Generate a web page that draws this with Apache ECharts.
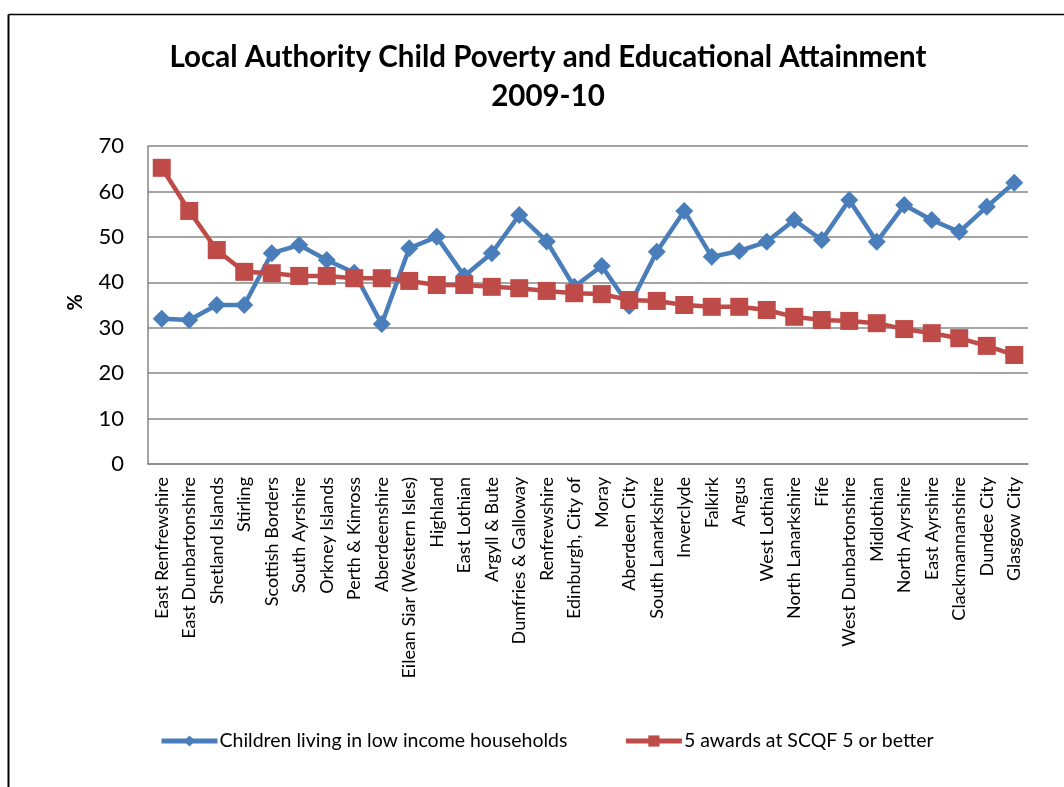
<!DOCTYPE html>
<html>
<head>
<meta charset="utf-8">
<script src="https://cdn.jsdelivr.net/npm/echarts@6/dist/echarts.min.js"></script>
<style>
  html, body { margin: 0; padding: 0; background: #ffffff; }
  #chart { width: 1064px; height: 787px; }
</style>
</head>
<body>
<div id="chart"></div>
<script>
// Scottish local authorities, ordered by attainment
const authorities = [
  'East Renfrewshire', 'East Dunbartonshire', 'Shetland Islands', 'Stirling',
  'Scottish Borders', 'South Ayrshire', 'Orkney Islands', 'Perth & Kinross',
  'Aberdeenshire', 'Eilean Siar (Western Isles)', 'Highland', 'East Lothian',
  'Argyll & Bute', 'Dumfries & Galloway', 'Renfrewshire', 'Edinburgh, City of',
  'Moray', 'Aberdeen City', 'South Lanarkshire', 'Inverclyde', 'Falkirk',
  'Angus', 'West Lothian', 'North Lanarkshire', 'Fife', 'West Dunbartonshire',
  'Midlothian', 'North Ayrshire', 'East Ayrshire', 'Clackmannanshire',
  'Dundee City', 'Glasgow City'
];

// % of children living in low income households
const lowIncome = [
  32.0, 31.7, 35.0, 35.0, 46.4, 48.2, 44.9, 42.1,
  30.8, 47.5, 50.0, 41.4, 46.4, 54.8, 49.0, 39.0,
  43.6, 34.8, 46.7, 55.7, 45.6, 46.9, 48.9, 53.7,
  49.3, 58.1, 48.9, 57.0, 53.7, 51.1, 56.6, 61.9
];

// % of pupils gaining 5 awards at SCQF level 5 or better
const scqfAwards = [
  65.2, 55.7, 47.1, 42.3, 42.0, 41.4, 41.4, 40.9,
  40.9, 40.3, 39.4, 39.4, 39.0, 38.7, 38.1, 37.6,
  37.4, 36.1, 35.9, 35.0, 34.6, 34.6, 33.9, 32.4,
  31.7, 31.5, 31.0, 29.7, 28.8, 27.7, 26.0, 24.0
];

const yTicks = { min: 0, max: 70, step: 10 };

const FONT = 'Lato, "Open Sans", sans-serif';
const BLUE = '#4a7ebb';
const RED = '#be4b48';

const chart = echarts.init(document.getElementById('chart'), null, { renderer: 'canvas' });

chart.setOption({
  backgroundColor: '#ffffff',
  animation: false,
  textStyle: { fontFamily: FONT, color: '#000000' },
  title: {
    text: 'Local Authority Child Poverty and Educational Attainment\n2009-10',
    left: 543,
    textAlign: 'center',
    top: 33,
    textStyle: {
      fontFamily: FONT,
      fontSize: 29.5,
      fontWeight: 'bold',
      lineHeight: 39,
      color: '#000000'
    }
  },
  graphic: [
    { type: 'line', shape: { x1: 8.5, y1: 14.5, x2: 1064, y2: 14.5 }, style: { stroke: '#000', lineWidth: 1.5 } },
    { type: 'line', shape: { x1: 8.5, y1: 14.5, x2: 8.5, y2: 787 }, style: { stroke: '#000', lineWidth: 2 } },
    {
      type: 'text',
      left: 66,
      top: 294,
      rotation: Math.PI / 2,
      style: { text: '%', font: 'bold 20px ' + FONT, fill: '#000' }
    }
  ],
  legend: {
    bottom: 31,
    left: 154,
    itemGap: 56,
    itemWidth: 56,
    itemHeight: 14,
    lineStyle: { width: 5 },
    textStyle: { fontFamily: FONT, fontSize: 19.5, color: '#000', padding: [0, 0, 0, -3] },
    data: ['Children living in low income households', '5 awards at SCQF 5 or better']
  },
  grid: { left: 148, right: 36, top: 146, bottom: 323, containLabel: false },
  xAxis: {
    type: 'category',
    data: authorities,
    boundaryGap: true,
    axisLine: { show: true, lineStyle: { color: '#868686', width: 1.5 } },
    axisTick: { show: false },
    axisLabel: {
      interval: 0,
      rotate: 90,
      margin: 13,
      fontFamily: FONT,
      fontSize: 18,
      color: '#000'
    }
  },
  yAxis: {
    type: 'value',
    min: yTicks.min,
    max: yTicks.max,
    interval: yTicks.step,
    axisLine: { show: true, lineStyle: { color: '#868686', width: 1.5 } },
    axisTick: { show: false },
    axisLabel: { fontFamily: FONT, fontSize: 22, color: '#000', margin: 24 },
    splitLine: { lineStyle: { color: '#868686', width: 1.5 } }
  },
  series: [
    {
      name: 'Children living in low income households',
      type: 'line',
      data: lowIncome,
      symbol: 'diamond',
      symbolSize: 18,
      itemStyle: { color: BLUE },
      lineStyle: { color: BLUE, width: 4.5 },
      z: 2
    },
    {
      name: '5 awards at SCQF 5 or better',
      type: 'line',
      data: scqfAwards,
      symbol: 'rect',
      symbolSize: 18,
      itemStyle: { color: RED },
      lineStyle: { color: RED, width: 4.5 },
      z: 3
    }
  ]
});
</script>
</body>
</html>
